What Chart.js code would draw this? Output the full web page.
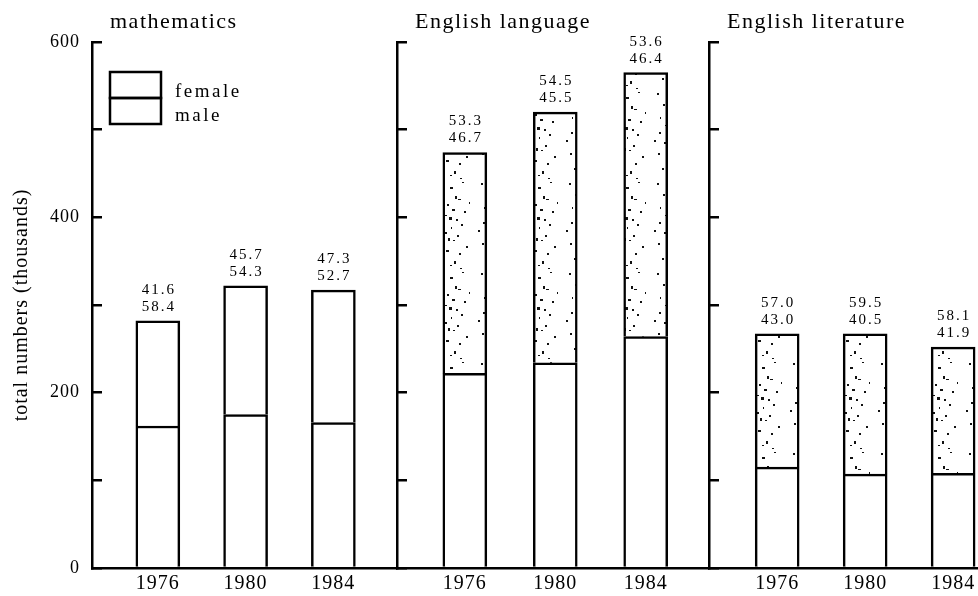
<!DOCTYPE html>
<html>
<head>
<meta charset="utf-8">
<script src="https://cdn.jsdelivr.net/npm/chart.js@4.4.1/dist/chart.umd.min.js"></script>
<style>
  body { margin: 0; background: #fff; width: 978px; height: 596px; overflow: hidden; position: relative; }
  canvas { position: absolute; top: 0; }
</style>
</head>
<body>
<canvas id="mathChart" width="397" height="596" style="left:0px"></canvas>
<canvas id="langChart" width="322" height="596" style="left:387px"></canvas>
<canvas id="litChart" width="279" height="596" style="left:699px"></canvas>
<script>
// data (thousands of candidates)
const years = [1976, 1980, 1984];
const yTicks = [0, 100, 200, 300, 400, 500, 600];
const yLabels = [0, 200, 400, 600];

const mathMale = [162, 175, 166];
const mathFemale = [120, 147, 151];
const langMale = [222, 234, 264];
const langFemale = [252, 286, 301];
const litMale = [115, 107, 108];
const litFemale = [152, 160, 144];

// percentages printed above the bars: female on top, male below
const mathPctF = ['41.6', '45.7', '47.3'];
const mathPctM = ['58.4', '54.3', '52.7'];
const langPctF = ['53.3', '54.5', '53.6'];
const langPctM = ['46.7', '45.5', '46.4'];
const litPctF = ['57.0', '59.5', '58.1'];
const litPctM = ['43.0', '40.5', '41.9'];

const SERIF = '"Liberation Serif", "DejaVu Serif", serif';

// speckled fill used for the female part of the English bars
function stipple() {
    const c = document.createElement('canvas');
    c.width = 44; c.height = 90;
    const g = c.getContext('2d');
    g.fillStyle = '#fff';
    g.fillRect(0, 0, 44, 90);
    g.fillStyle = '#111';
    const dots = [[6,3,2,2],[19,7,3,2],[31,2,2,1],[12,14,2,2],[24,16,2,3],[27,19,3,1],
                  [16,24,2,2],[9,27,1,2],[21,29,3,2],[33,31,2,2],[14,35,2,1],[18,37,3,3],
                  [25,39,2,2],[8,42,2,2],[30,44,2,2],[20,47,1,2],[13,52,3,2],[26,55,2,2],
                  [17,58,2,3],[22,60,2,1],[7,63,2,2],[35,66,2,2],[15,70,3,2],[28,73,2,2],
                  [11,78,2,2],[23,81,2,3],[19,85,2,1],[3,50,2,2],[38,22,1,2],[29,88,2,1]];
    dots.forEach(d => g.fillRect(d[0], d[1], d[2], d[3]));
    return g.createPattern(c, 'repeat');
}
const speckle = stipple();

const panelPlugin = {
    id: 'panel',
    beforeDraw(chart) {
        chart.ctx.letterSpacing = '1px';
    },
    afterDatasetsDraw(chart, args, opts) {
        const ctx = chart.ctx;
        const a = chart.chartArea;
        ctx.save();
        ctx.fillStyle = '#000';
        ctx.letterSpacing = '2px';
        ctx.font = '15px ' + SERIF;
        ctx.textAlign = 'center';
        ctx.textBaseline = 'middle';
        const meta = chart.getDatasetMeta(1);
        meta.data.forEach((bar, i) => {
            ctx.fillText(opts.pctF[i], bar.x + 1, bar.y - 31);
            ctx.fillText(opts.pctM[i], bar.x + 1, bar.y - 14);
        });

        // panel heading
        ctx.letterSpacing = '1.5px';
        ctx.font = '22px ' + SERIF;
        ctx.textAlign = 'left';
        ctx.textBaseline = 'alphabetic';
        ctx.fillText(opts.title, a.left + 18, 28);

        if (opts.legend) {
            ctx.lineWidth = 2.5;
            ctx.strokeStyle = '#000';
            ctx.strokeRect(a.left + 18, a.top + 30, 51, 26);
            ctx.strokeRect(a.left + 18, a.top + 56, 51, 26);
            ctx.letterSpacing = '2.5px';
            ctx.font = '19px ' + SERIF;
            ctx.fillText('female', a.left + 83, a.top + 55);
            ctx.fillText('male', a.left + 83, a.top + 79);
        }
        ctx.restore();
    }
};

function makePanel(id, male, female, femaleFill, pctF, pctM, title, xMin, xMax, first) {
    const ctx = document.getElementById(id).getContext('2d');
    return new Chart(ctx, {
        type: 'bar',
        data: {
            datasets: [{
                label: 'male',
                data: years.map((yr, i) => ({ x: yr, y: male[i] })),
                backgroundColor: '#fff',
                borderColor: '#000',
                borderWidth: 2.5,
                barThickness: 44
            }, {
                label: 'female',
                data: years.map((yr, i) => ({ x: yr, y: female[i] })),
                backgroundColor: femaleFill,
                borderColor: '#000',
                borderWidth: 2.5,
                barThickness: 44
            }]
        },
        options: {
            responsive: false,
            animation: false,
            layout: { padding: { top: 42, left: 0, right: 0, bottom: 0 } },
            plugins: {
                legend: { display: false },
                tooltip: { enabled: false },
                panel: { title: title, pctF: pctF, pctM: pctM, legend: first }
            },
            scales: {
                x: {
                    type: 'linear',
                    min: xMin,
                    max: xMax,
                    offset: false,
                    stacked: true,
                    afterBuildTicks: s => { s.ticks = years.map(v => ({ value: v })); },
                    afterFit: s => { s.height = 28; s.paddingLeft = 0; s.paddingRight = 0; },
                    ticks: {
                        callback: v => String(v),
                        padding: 4,
                        color: '#000',
                        font: { family: SERIF, size: 20 },
                        maxRotation: 0,
                        autoSkip: false
                    },
                    grid: { display: true, drawOnChartArea: false, drawTicks: false },
                    border: { display: true, width: 2.5, color: '#000' }
                },
                y: {
                    min: 0,
                    max: 600,
                    stacked: true,
                    afterBuildTicks: s => { s.ticks = yTicks.map(v => ({ value: v })); },
                    afterFit: s => { s.width = first ? 92 : 10; s.paddingTop = 0; s.paddingBottom = 0; },
                    ticks: {
                        display: first,
                        padding: 22,
                        color: '#000',
                        font: { family: SERIF, size: 18 },
                        callback: v => yLabels.includes(v) ? String(v) : ''
                    },
                    grid: { drawOnChartArea: false, drawTicks: true, tickLength: -10, lineWidth: 2.5, color: '#000' },
                    border: { display: true, width: 2.5, color: '#000' },
                    title: {
                        display: first,
                        text: 'total numbers (thousands)',
                        color: '#000',
                        font: { family: SERIF, size: 20 },
                        padding: { top: 10, bottom: 0 }
                    }
                }
            }
        },
        plugins: [panelPlugin]
    });
}

makePanel('mathChart', mathMale, mathFemale, '#fff', mathPctF, mathPctM, 'mathematics', 1973, 1986.9, true);
makePanel('langChart', langMale, langFemale, speckle, langPctF, langPctM, 'English language', 1973, 1986.8, false);
makePanel('litChart', litMale, litFemale, speckle, litPctF, litPctM, 'English literature', 1972.9, 1985.13, false);
</script>
</body>
</html>
